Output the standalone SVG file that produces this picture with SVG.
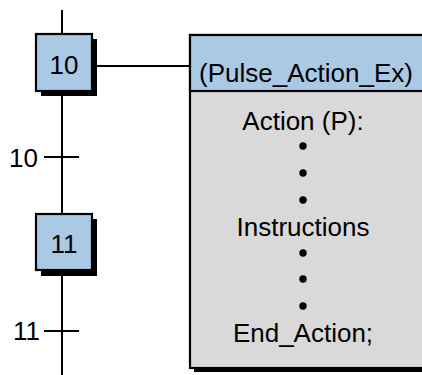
<svg xmlns="http://www.w3.org/2000/svg" width="422" height="375" viewBox="0 0 422 375">
<style>
.ln{stroke:#000;stroke-width:2;fill:none}
.step{fill:#A9C9E5;stroke:#000;stroke-width:2.2}
.sh{fill:#000}
.t{font-family:"Liberation Sans",Arial,sans-serif;font-size:26px;fill:#000}
.c{text-anchor:middle}
.r{text-anchor:end}
</style>
<g id="connectors">
<line class="ln" x1="62" y1="10" x2="62" y2="375"/>
<line class="ln" x1="92" y1="66" x2="190" y2="66"/>
<line class="ln" x1="44" y1="157" x2="79" y2="157"/>
<line class="ln" x1="44" y1="331" x2="79" y2="331"/>
</g>
<g id="t10"><text class="t r" x="38" y="167">10</text></g>
<g id="t11"><text class="t r" x="40" y="340">11</text></g>
<g id="step10">
<rect class="sh" x="41" y="39" width="56" height="57"/>
<rect class="step" x="36" y="34" width="56" height="57"/>
<text class="t c" x="64" y="74">10</text>
</g>
<g id="step11">
<rect class="sh" x="41" y="219" width="56" height="57"/>
<rect class="step" x="36" y="214" width="56" height="56"/>
<text class="t c" x="64" y="253">11</text>
</g>
<g id="action">
<rect class="sh" x="194" y="39" width="240" height="333"/>
<rect x="190" y="35" width="240" height="333" fill="#D9D9D9" stroke="#000" stroke-width="2.2"/>
<rect x="190" y="35" width="240" height="56" fill="#A9C9E5" stroke="#000" stroke-width="2.2"/>
<text class="t" x="199" y="82">(Pulse_Action_Ex)</text>
<text class="t c" x="303" y="130">Action (P):</text>
<circle cx="303" cy="146" r="3.7"/>
<circle cx="303" cy="173" r="3.7"/>
<circle cx="303" cy="200" r="3.7"/>
<text class="t c" x="303" y="236">Instructions</text>
<circle cx="303" cy="253" r="3.7"/>
<circle cx="303" cy="279" r="3.7"/>
<circle cx="303" cy="306" r="3.7"/>
<text class="t c" x="303" y="342">End_Action;</text>
</g>
</svg>
